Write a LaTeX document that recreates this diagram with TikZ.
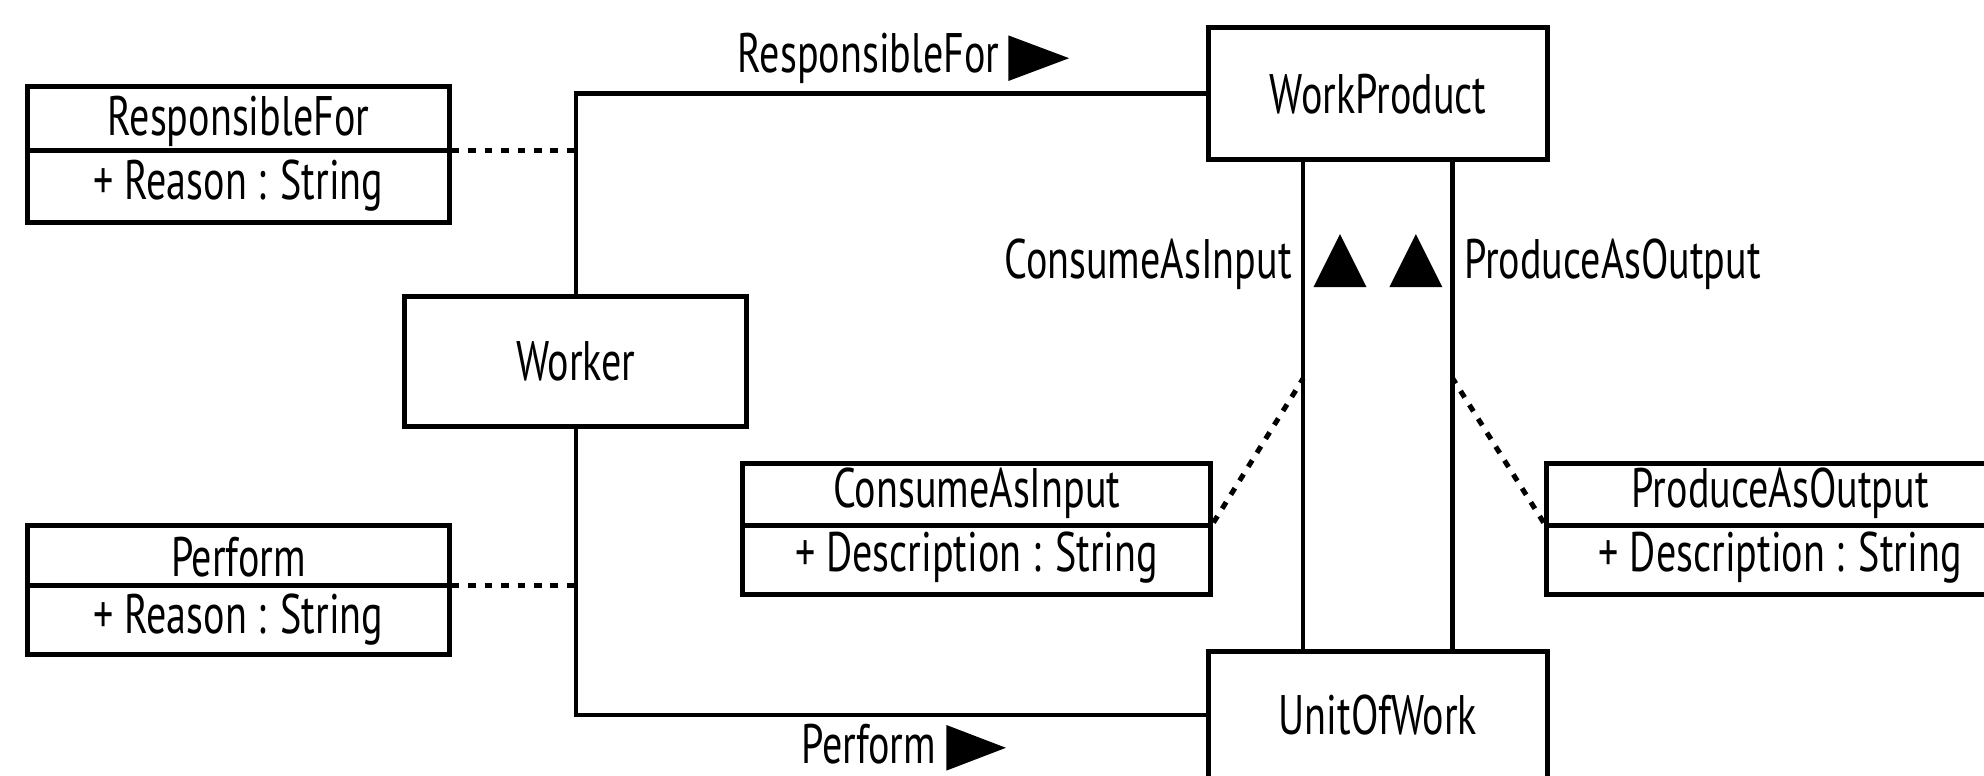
\documentclass[tikz,border=0pt]{standalone}
\usepackage{fontspec}
\setmainfont[FakeStretch=0.72]{PT Sans}
\usetikzlibrary{calc}
\begin{document}
\begin{tikzpicture}[x=1pt,y=-1pt,
  box/.style={draw, line width=4pt, fill=white, inner sep=0pt},
  txt/.style={inner sep=0pt, font=\fontsize{44}{50}\selectfont},
  assoc/.style={line width=3.5pt},
  link/.style={line width=4pt, dash pattern=on 6pt off 7pt},
  tri/.style={fill=black}]
\useasboundingbox (0,0) rectangle (1568,613);
\clip (0,0) rectangle (1568,613);

% classes
\node[box, minimum width=270pt, minimum height=103pt] (wk) at (455,285.5) {};
\node[box, minimum width=268pt, minimum height=104pt] (wp) at (1089,74) {};
\node[box, minimum width=268pt, minimum height=100pt] (uw) at (1089,565) {};
\node[txt] (wkt) at (wk.center) {Worker};
\node[txt] (wpt) at (wp.center) {WorkProduct};
\node[txt] (uwt) at (uw.center) {UnitOfWork};

% association classes (name above, attribute below)
\node[box, minimum width=333pt, minimum height=108pt] (rf) at (188.5,122) {};
\node[box, minimum width=333pt, minimum height=102pt] (pf) at (188.5,466) {};
\node[box, minimum width=370pt, minimum height=104pt] (ci) at (772,418) {};
\node[box, minimum width=370pt, minimum height=104pt] (po) at (1407,418) {};
\foreach \n in {rf,pf,ci,po} \draw[line width=4pt] ([yshift=3pt]\n.west) -- ([yshift=3pt]\n.east);
\node[txt] (rft) at ([yshift=26pt]rf.center) {ResponsibleFor};
\node[txt] (rfa) at ([yshift=-25pt]rf.center) {+ Reason : String};
\node[txt] (pft) at ([yshift=26pt]pf.center) {Perform};
\node[txt] (pfa) at ([yshift=-24pt]pf.center) {+ Reason : String};
\node[txt] (cit) at ([yshift=28pt]ci.center) {ConsumeAsInput};
\node[txt] (cia) at ([yshift=-23pt]ci.center) {+ Description : String};
\node[txt] (pot) at ([yshift=28pt]po.center) {ProduceAsOutput};
\node[txt] (poa) at ([yshift=-23pt]po.center) {+ Description : String};

% associations
\draw[assoc] (wk.north) |- (wp.west);
\draw[assoc] (wk.south) |- (uw.west);
\draw[assoc] ([xshift=-59pt]wp.south) -- ([xshift=-59pt]uw.north);
\draw[assoc] ([xshift=59pt]wp.south) -- ([xshift=59pt]uw.north);

% links to association classes
\coordinate (cmid) at (1030,299);
\coordinate (pmid) at (1148,299);
\draw[link] ([yshift=3pt]rf.east) -- ([yshift=3pt]rf.east -| wk.north);
\draw[link] ([yshift=3pt]pf.east) -- ([yshift=3pt]pf.east -| wk.south);
\draw[link] ([yshift=5pt]ci.east) -- (cmid);
\draw[link] ([yshift=5pt]po.west) -- (pmid);

% association names with direction triangles
\node[txt, anchor=east] (rfl) at (790,46) {ResponsibleFor};
\fill[tri] (797,28) -- (845,46) -- (797,64) -- cycle;
\node[txt, anchor=east] (pfl) at (740,588) {Perform};
\fill[tri] (748,573) -- (795,591) -- (748,609) -- cycle;
\node[txt, anchor=east] (cil) at (1021,209) {ConsumeAsInput};
\fill[tri] (1038,227) -- (1059,185) -- (1080,227) -- cycle;
\fill[tri] (1098,227) -- (1119,185) -- (1140,227) -- cycle;
\node[txt, anchor=west] (pol) at (1157,209) {ProduceAsOutput};
\end{tikzpicture}
\end{document}
